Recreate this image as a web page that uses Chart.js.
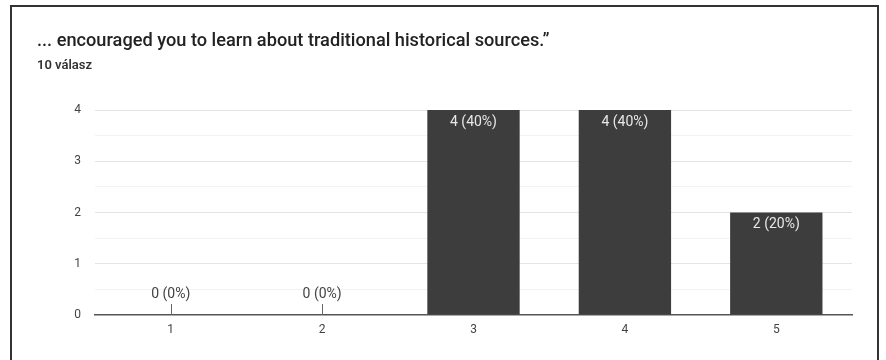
<!DOCTYPE html>
<html>
<head>
<meta charset="utf-8">
<script src="https://cdn.jsdelivr.net/npm/chart.js@4"></script>
<style>
    html, body { margin: 0; padding: 0; background: #fff; }
    #wrap { position: relative; width: 886px; height: 360px; overflow: hidden; font-family: Roboto, "Noto Sans", sans-serif; }
    #frame { position: absolute; left: 10px; top: 5px; width: 869px; height: 400px; border: 2px solid #333; box-sizing: border-box; }
    #title { position: absolute; left: 37px; top: 29px; font-size: 18.2px; font-weight: 500; color: #222; white-space: nowrap; }
    #subtitle { position: absolute; left: 37px; top: 57px; font-size: 13px; font-weight: 600; color: #333; }
    canvas { position: absolute; left: 0; top: 0; }
</style>
</head>
<body>
<div id="wrap">
    <div id="frame"></div>
    <canvas id="chart" width="886" height="360"></canvas>
    <div id="title">... encouraged you to learn about traditional historical sources.”</div>
    <div id="subtitle">10 válasz</div>
</div>
<script>
const categories = ['1', '2', '3', '4', '5'];
const counts = [0, 0, 4, 4, 2];
const yTicks = [0, 1, 2, 3, 4];

const total = counts.reduce((a, b) => a + b, 0);

// value labels: inside the bar top, or above a small tick when the bar is empty
const valueLabels = {
    id: 'valueLabels',
    afterDatasetsDraw(chart) {
        const ctx = chart.ctx;
        const meta = chart.getDatasetMeta(0);
        const yScale = chart.scales.y;
        const zeroY = yScale.getPixelForValue(0);
        ctx.save();
        ctx.font = '14px Roboto, "Noto Sans", sans-serif';
        ctx.textAlign = 'center';
        ctx.textBaseline = 'middle';
        meta.data.forEach((bar, i) => {
            const v = counts[i];
            const text = `${v} (${Math.round(v / total * 100)}%)`;
            if (v === 0) {
                ctx.strokeStyle = '#666';
                ctx.lineWidth = 1;
                ctx.beginPath();
                ctx.moveTo(Math.round(bar.x) + 0.5, zeroY);
                ctx.lineTo(Math.round(bar.x) + 0.5, zeroY - 11);
                ctx.stroke();
                ctx.fillStyle = '#444';
                ctx.fillText(text, bar.x, zeroY - 21);
            } else {
                ctx.fillStyle = '#e8e8e8';
                ctx.fillText(text, bar.x, bar.y + 12);
            }
        });
        ctx.restore();
    }
};

new Chart(document.getElementById('chart'), {
    type: 'bar',
    data: {
        labels: categories,
        datasets: [{
            data: counts,
            backgroundColor: '#3d3d3d',
            borderWidth: 0,
            categoryPercentage: 1,
            barPercentage: 0.61
        }]
    },
    options: {
        responsive: false,
        animation: false,
        layout: { padding: { left: 60, right: 34, top: 110, bottom: 0 } },
        plugins: {
            legend: { display: false },
            tooltip: { enabled: false }
        },
        scales: {
            x: {
                grid: { display: false, drawTicks: false },
                border: { color: '#555', width: 1.5 },
                ticks: { color: '#444', font: { size: 12, family: 'Roboto' }, padding: 8 },
                afterFit(scale) { scale.height = 45; }
            },
            y: {
                min: 0,
                max: 4,
                border: { display: false },
                grid: {
                    drawTicks: false,
                    color: (c) => {
                        const v = c.tick.value;
                        if (v === 0) return 'rgba(0,0,0,0)';
                        return Number.isInteger(v) ? '#e4e4e4' : '#f3f3f3';
                    }
                },
                ticks: {
                    stepSize: 0.5,
                    padding: 14,
                    color: '#444',
                    font: { size: 12, family: 'Roboto' },
                    callback: (v) => yTicks.includes(v) ? String(v) : ''
                },
                afterFit(scale) { scale.width = 35; }
            }
        }
    },
    plugins: [valueLabels]
});
</script>
</body>
</html>
